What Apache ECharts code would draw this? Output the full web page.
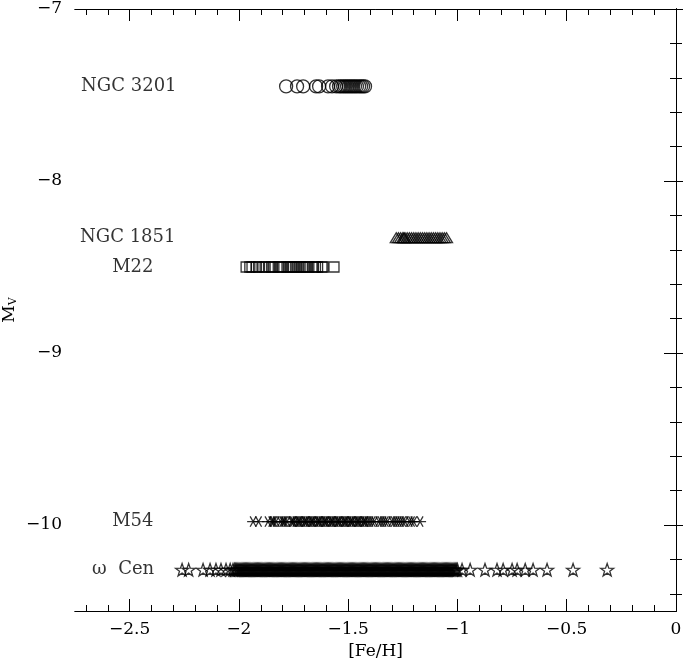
<!DOCTYPE html>
<html>
<head>
<meta charset="utf-8">
<script src="https://cdn.jsdelivr.net/npm/echarts@6/dist/echarts.min.js"></script>
<style>html,body{margin:0;padding:0;background:#fff}#c{width:683px;height:664px}</style>
</head>
<body>
<div id="c"></div>
<script>
// ---- data ----
var ngc3201Mv = -7.45;
var ngc3201Fe = [-1.784,-1.734,-1.706,-1.647,-1.633,-1.592,-1.574,-1.555,-1.542,-1.533,-1.523,-1.514,-1.505,-1.496,-1.487,-1.478,-1.469,-1.46,-1.45,-1.441,-1.432,-1.423];
var ngc1851Mv = -8.33;
var ngc1851Fe = [-1.28,-1.27,-1.26,-1.25,-1.245,-1.24,-1.23,-1.22,-1.21,-1.20,-1.19,-1.18,-1.17,-1.16,-1.15,-1.14,-1.13,-1.12,-1.11,-1.10,-1.09,-1.08,-1.07,-1.06,-1.05];
var m22Mv = -8.5;
var m22Fe = [-1.967,-1.95,-1.94,-1.92,-1.91,-1.89,-1.88,-1.86,-1.85,-1.84,-1.82,-1.81,-1.80,-1.78,-1.77,-1.76,-1.75,-1.74,-1.73,-1.72,-1.71,-1.70,-1.69,-1.68,-1.66,-1.65,-1.64,-1.62,-1.615,-1.565];
var m54Mv = -9.98;
var m54Fe = [-1.935,-1.91,-1.867,-1.85,-1.845,-1.84,-1.83,-1.81,-1.80,-1.795,-1.79,-1.78,-1.76,-1.755,-1.75,-1.74,-1.73,-1.725,-1.72,-1.71,-1.70,-1.695,-1.69,-1.68,-1.67,-1.665,-1.66,-1.65,-1.64,-1.635,-1.63,-1.62,-1.61,-1.605,-1.60,-1.59,-1.58,-1.575,-1.57,-1.56,-1.55,-1.545,-1.54,-1.53,-1.52,-1.515,-1.51,-1.50,-1.49,-1.485,-1.48,-1.47,-1.46,-1.455,-1.45,-1.44,-1.43,-1.425,-1.42,-1.41,-1.40,-1.39,-1.38,-1.36,-1.35,-1.34,-1.33,-1.32,-1.30,-1.29,-1.28,-1.27,-1.26,-1.25,-1.24,-1.22,-1.21,-1.20,-1.171];
var omegaMv = -10.26;
var omegaFe = [-2.26,-2.23,-2.164,-2.132,-2.105,-2.082,-2.059,-2.04,-2.027,
 -2.02,-2.015,-2.01,-2.005,-2.00,-1.995,-1.99,-1.985,-1.98,-1.975,-1.97,-1.965,-1.96,-1.955,-1.95,-1.945,-1.94,-1.935,-1.93,-1.925,-1.92,-1.915,-1.91,-1.905,-1.90,-1.895,-1.89,-1.885,-1.88,-1.875,-1.87,-1.865,-1.86,-1.855,-1.85,-1.845,-1.84,-1.835,-1.83,-1.825,-1.82,-1.815,-1.81,-1.805,-1.80,-1.795,-1.79,-1.785,-1.78,-1.775,-1.77,-1.765,-1.76,-1.755,-1.75,-1.745,-1.74,-1.735,-1.73,-1.725,-1.72,-1.715,-1.71,-1.705,-1.70,-1.695,-1.69,-1.685,-1.68,-1.675,-1.67,-1.665,-1.66,-1.655,-1.65,-1.645,-1.64,-1.635,-1.63,-1.625,-1.62,-1.615,-1.61,-1.605,-1.60,-1.595,-1.59,-1.585,-1.58,-1.575,-1.57,-1.565,-1.56,-1.555,-1.55,-1.545,-1.54,-1.535,-1.53,-1.525,-1.52,-1.515,-1.51,-1.505,-1.50,-1.495,-1.49,-1.485,-1.48,-1.475,-1.47,-1.465,-1.46,-1.455,-1.45,-1.445,-1.44,-1.435,-1.43,-1.425,-1.42,-1.415,-1.41,-1.405,-1.40,-1.395,-1.39,-1.385,-1.38,-1.375,-1.37,-1.365,-1.36,-1.355,-1.35,-1.345,-1.34,-1.335,-1.33,-1.325,-1.32,-1.315,-1.31,-1.305,-1.30,-1.295,-1.29,-1.285,-1.28,-1.275,-1.27,-1.265,-1.26,-1.255,-1.25,-1.245,-1.24,-1.235,-1.23,-1.225,-1.22,-1.215,-1.21,-1.205,-1.20,-1.195,-1.19,-1.185,-1.18,-1.175,-1.17,-1.165,-1.16,-1.155,-1.15,-1.145,-1.14,-1.135,-1.13,-1.125,-1.12,-1.115,-1.11,-1.105,-1.10,-1.095,-1.09,-1.085,-1.08,-1.075,-1.07,-1.065,-1.06,-1.055,-1.05,-1.045,-1.04,-1.035,-1.03,-1.025,-1.02,-1.015,-1.01,-1.005,-1.00,
 -0.979,-0.942,-0.874,-0.819,-0.791,-0.75,-0.727,-0.69,-0.654,-0.59,-0.471,-0.315];
var clusterNames = ['NGC 3201','NGC 1851','M22','M54','\u03c9  Cen'];
var labelFe = [-2.722,-2.727,-2.58,-2.58,-2.672];
var labelMv = [-7.45,-8.33,-8.5,-9.98,-10.26];
var xMajor = [-2.5,-2,-1.5,-1,-0.5,0];
var xMinor = [-2.7,-2.6,-2.4,-2.3,-2.2,-2.1,-1.9,-1.8,-1.7,-1.6,-1.4,-1.3,-1.2,-1.1,-0.9,-0.8,-0.7,-0.6,-0.4,-0.3,-0.2,-0.1];
var yMajor = [-10,-9,-8,-7];
var yMinor = [-10.4,-10.2,-9.8,-9.6,-9.4,-9.2,-8.8,-8.6,-8.4,-8.2,-7.8,-7.6,-7.4,-7.2];

// ---- chart ----
var FONT = 'DejaVu Serif';
function fmt(v){ return String(v).replace('-', '\u2212'); }
function xAx(pos, ticks, len, labels){
  return {type:'value', min:-2.75, max:0, position:pos, offset:0,
    axisLine:{show:true, lineStyle:{color:'#000', width:1}},
    axisTick:{show:true, inside:true, length:len, customValues:ticks, lineStyle:{color:'#000', width:1}},
    axisLabel:{show:labels, customValues:ticks, formatter:fmt, color:'#000', fontFamily:FONT, fontSize:17, margin:10},
    splitLine:{show:false}};
}
function yAx(pos, ticks, len, labels){
  return {type:'value', min:-10.5, max:-7, position:pos, offset:0,
    axisLine:{show:true, lineStyle:{color:'#000', width:1}},
    axisTick:{show:true, inside:true, length:len, customValues:ticks, lineStyle:{color:'#000', width:1}},
    axisLabel:{show:labels, customValues:ticks, formatter:fmt, color:'#000', fontFamily:FONT, fontSize:17, margin:13},
    splitLine:{show:false}};
}
var xs = [xAx('bottom', xMajor, 12, true), xAx('bottom', xMinor, 6, false), xAx('top', xMajor, 12, false), xAx('top', xMinor, 6, false)];
xs[0].name = '[Fe/H]'; xs[0].nameLocation='middle'; xs[0].nameGap = 32; xs[0].nameMoveOverlap = false;
xs[0].nameTextStyle = {color:'#000', fontFamily:FONT, fontSize:17};
var ys = [yAx('left', yMajor, 12, true), yAx('left', yMinor, 6, false), yAx('right', yMajor, 12, false), yAx('right', yMinor, 6, false)];
ys[0].name = '{m|M}{s|V}'; ys[0].nameLocation='middle'; ys[0].nameGap = 56; ys[0].nameRotate = 90; ys[0].nameMoveOverlap = false;
ys[0].nameTextStyle = {color:'#000', fontFamily:FONT, rich:{m:{fontFamily:FONT, fontSize:17, color:'#000'}, s:{fontFamily:FONT, fontSize:11, color:'#000', verticalAlign:'bottom', padding:[8,0,0,0]}}};

function pts(fe, mv){ return fe.map(function(f){ return [f, mv]; }); }
var hollow = {color:'rgba(0,0,0,0)', borderColor:'#000', borderWidth:1.3};
var starPath = 'path://M0,-10 L2.35,-3.24 L9.51,-3.09 L3.8,1.24 L5.88,8.09 L0,4 L-5.88,8.09 L-3.8,1.24 L-9.51,-3.09 L-2.35,-3.24 Z';
var astPath = 'path://M-10,0 L10,0 M-5,-8.66 L5,8.66 M-5,8.66 L5,-8.66';
function sc(name, data, symbol, size){
  return {type:'scatter', name:name, data:data, symbol:symbol, symbolSize:size, symbolKeepAspect:true,
    itemStyle:hollow, silent:true, animation:false, emphasis:{disabled:true}};
}
var series = [
  sc('NGC 3201', pts(ngc3201Fe, ngc3201Mv), 'circle', 13),
  sc('NGC 1851', pts(ngc1851Fe, ngc1851Mv), 'triangle', [12,10]),
  sc('M22', pts(m22Fe, m22Mv), 'rect', 10),
  sc('M54', pts(m54Fe, m54Mv), astPath, 12),
  sc('omega Cen', pts(omegaFe, omegaMv), starPath, 13),
  {type:'scatter', name:'labels', symbolSize:1, itemStyle:{color:'rgba(0,0,0,0)'}, silent:true, animation:false,
   data: clusterNames.map(function(n,i){ return {name:n, value:[labelFe[i], labelMv[i]]}; }),
   label:{show:true, position:'inside', align:'left', verticalAlign:'middle', formatter:'{b}', color:'#000', fontFamily:FONT, fontSize:18}}
];

var chart = echarts.init(document.getElementById('c'), null, {renderer:'canvas'});
chart.setOption({
  animation:false,
  backgroundColor:'#fff',
  grid:{left:75, right:7, top:9, bottom:53, containLabel:false, outerBoundsMode:'none'},
  xAxis: xs,
  yAxis: ys,
  series: series
});
</script>
</body>
</html>
